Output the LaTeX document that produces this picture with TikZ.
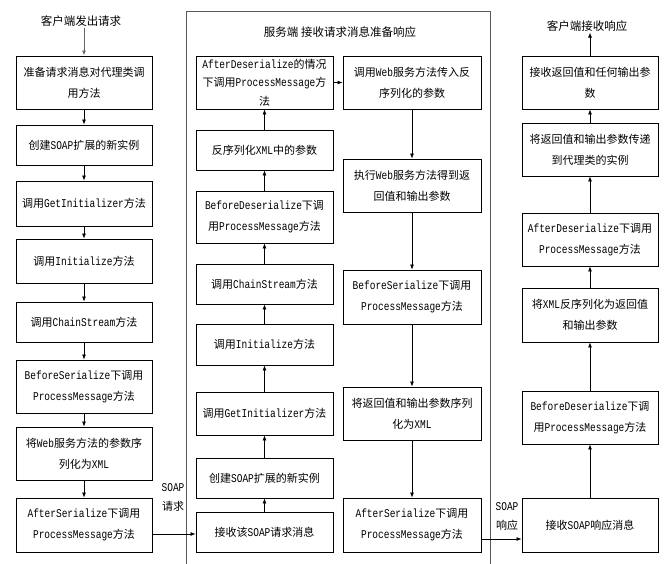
\documentclass[tikz,border=0pt]{standalone}
\usepackage{fontspec}
\setmainfont{Noto Sans CJK SC}
\newfontfamily\enf{Liberation Mono}[FakeStretch=0.8,Scale=1.08]
\newcommand\en[1]{{\enf #1}}
\usetikzlibrary{arrows.meta}
\begin{document}
\begin{tikzpicture}[x=1pt,y=-1pt,
  box/.style={draw, line width=0.9pt, align=center, inner sep=1pt, font=\fontsize{11}{21}\selectfont},
  lbox/.style={box, minimum width=136, minimum height=#1},
  mlbox/.style={box, minimum width=137, minimum height=#1},
  mrbox/.style={box, minimum width=138, minimum height=#1},
  rbox/.style={box, minimum width=136, minimum height=#1},
  arr/.style={line width=0.7pt, -{Latex[length=5pt,width=4pt]}},
  ttl/.style={font=\fontsize{11.5}{14}\selectfont, inner sep=1pt},
  lbl/.style={font=\fontsize{11}{19}\selectfont, align=center, fill=white, inner sep=1pt}]
\useasboundingbox (0,0) rectangle (664,564);

% middle panel
\draw[line width=0.9pt, black!65] (186,570) -- (186,11) -- (490,11) -- (490,570);

% titles
\node[ttl] (T1) at (81,21) {客户端发出请求};
\node[ttl] (T2) at (340,32) {服务端 接收请求消息准备响应};
\node[ttl] (T3) at (587,26) {客户端接收响应};

% left column
\node[lbox=53] (L1) at (84,82.5) {准备请求消息对代理类调\\用方法};
\node[lbox=40] (L2) at (84,145) {创建\en{SOAP}扩展的新实例};
\node[lbox=45] (L3) at (84,203.5) {调用\en{GetInitializer}方法};
\node[lbox=44] (L4) at (84,261) {调用\en{Initialize}方法};
\node[lbox=40] (L5) at (84,322) {调用\en{ChainStream}方法};
\node[lbox=53] (L6) at (84,386.5) {\en{BeforeSerialize}下调用\\\en{ProcessMessage}方法};
\node[lbox=53] (L7) at (84,453.5) {将\en{Web}服务方法的参数序\\列化为\en{XML}};
\node[lbox=54] (L8) at (84,525) {\en{AfterSerialize}下调用\\\en{ProcessMessage}方法};

% middle-left column
\node[mlbox=53, font=\fontsize{11}{18.5}\selectfont] (ML1) at (264.5,82.5) {\en{AfterDeserialize}的情况\\下调用\en{ProcessMessage}方\\法};
\node[mlbox=40] (ML2) at (264.5,150) {反序列化\en{XML}中的参数};
\node[mlbox=52] (ML3) at (264.5,217) {\en{BeforeDeserialize}下调\\用\en{ProcessMessage}方法};
\node[mlbox=40] (ML4) at (264.5,284) {调用\en{ChainStream}方法};
\node[mlbox=41] (ML5) at (264.5,344.5) {调用\en{Initialize}方法};
\node[mlbox=43] (ML6) at (264.5,413.5) {调用\en{GetInitializer}方法};
\node[mlbox=40] (ML7) at (264.5,478) {创建\en{SOAP}扩展的新实例};
\node[mlbox=40] (ML8) at (264.5,532) {接收该\en{SOAP}请求消息};

% middle-right column
\node[mrbox=53] (MR1) at (412,82.5) {调用\en{Web}服务方法传入反\\序列化的参数};
\node[mrbox=53] (MR2) at (412,185.5) {执行\en{Web}服务方法得到返\\回值和输出参数};
\node[mrbox=54] (MR3) at (412,297) {\en{BeforeSerialize}下调用\\\en{ProcessMessage}方法};
\node[mrbox=53] (MR4) at (412,413.5) {将返回值和输出参数序列\\化为\en{XML}};
\node[mrbox=54] (MR5) at (412,525) {\en{AfterSerialize}下调用\\\en{ProcessMessage}方法};

% right column
\node[rbox=53] (R1) at (590,82.5) {接收返回值和任何输出参\\数};
\node[rbox=53] (R2) at (590,149.5) {将返回值和输出参数传递\\到代理类的实例};
\node[rbox=53] (R3) at (590,239.5) {\en{AfterDeserialize}下调用\\\en{ProcessMessage}方法};
\node[rbox=54] (R4) at (590,315) {将\en{XML}反序列化为返回值\\和输出参数};
\node[rbox=53] (R5) at (590,417.5) {\en{BeforeDeserialize}下调\\用\en{ProcessMessage}方法};
\node[rbox=54] (R6) at (590,525) {接收\en{SOAP}响应消息};

% labels
\node[lbl] (S1) at (173,497) {\en{SOAP}\\请求};
\node[lbl] (S2) at (507,517) {\en{SOAP}\\响应};

% arrows: left column
\draw[arr, black!60, line width=1pt] (T1.south -| L1.north) -- (L1.north);
\foreach \a/\b in {L1/L2,L2/L3,L3/L4,L4/L5,L5/L6,L6/L7,L7/L8}
  \draw[arr] (\a.south) -- (\b.north);

% left -> middle
\coordinate (h1) at (0,534);
\draw[arr] (L8.east |- h1) -- (ML8.west |- h1);

% middle-left upward
\foreach \a/\b in {ML8/ML7,ML7/ML6,ML6/ML5,ML5/ML4,ML4/ML3,ML3/ML2,ML2/ML1}
  \draw[arr] (\a.north) -- (\b.south);

\draw[arr] (ML1.east) -- (MR1.west);

% middle-right downward
\foreach \a/\b in {MR1/MR2,MR2/MR3,MR3/MR4,MR4/MR5}
  \draw[arr] (\a.south) -- (\b.north);

% middle -> right
\coordinate (h2) at (0,539);
\draw[arr] (MR5.east |- h2) -- (R6.west |- h2);

% right upward
\foreach \a/\b in {R6/R5,R5/R4,R4/R3,R3/R2,R2/R1}
  \draw[arr] (\a.north) -- (\b.south);
\draw[arr] (R1.north) -- (R1.north |- T3.south);
\end{tikzpicture}
\end{document}
